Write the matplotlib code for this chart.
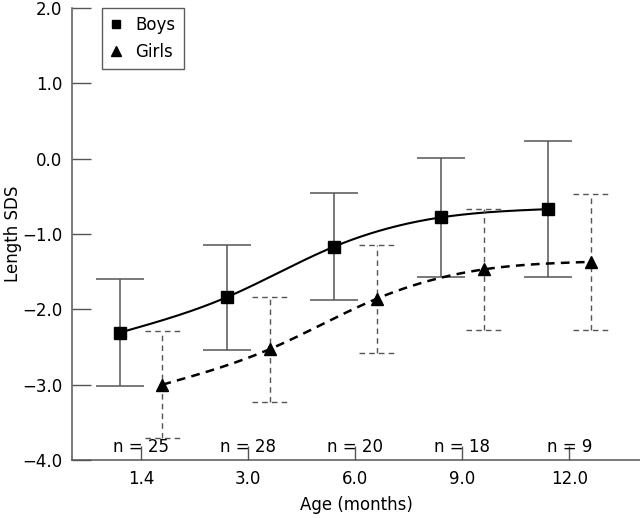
import numpy as np
import matplotlib
matplotlib.use('Agg')
import matplotlib.pyplot as plt

# data
ages = ['1.4', '3.0', '6.0', '9.0', '12.0']
n_labels = ['n = 25', 'n = 28', 'n = 20', 'n = 18', 'n = 9']
boys_mean = [-2.31, -1.84, -1.17, -0.78, -0.67]
boys_sd = [0.71, 0.70, 0.71, 0.79, 0.90]
girls_mean = [-3.00, -2.53, -1.86, -1.47, -1.37]
girls_sd = [0.71, 0.70, 0.72, 0.80, 0.90]


def smooth(x, y, num=200):
    # natural cubic spline for drawing the curve through the points
    x = np.asarray(x, float)
    y = np.asarray(y, float)
    n = len(x)
    h = np.diff(x)
    A = np.zeros((n, n))
    b = np.zeros(n)
    A[0, 0] = A[-1, -1] = 1
    for i in range(1, n - 1):
        A[i, i - 1] = h[i - 1]
        A[i, i] = 2 * (h[i - 1] + h[i])
        A[i, i + 1] = h[i]
        b[i] = 3 * ((y[i + 1] - y[i]) / h[i] - (y[i] - y[i - 1]) / h[i - 1])
    c = np.linalg.solve(A, b)
    xs = np.linspace(x[0], x[-1], num)
    ys = np.empty_like(xs)
    for k, xv in enumerate(xs):
        i = min(np.searchsorted(x, xv, side='right') - 1, n - 2)
        dx = xv - x[i]
        bi = (y[i + 1] - y[i]) / h[i] - h[i] * (2 * c[i] + c[i + 1]) / 3
        di = (c[i + 1] - c[i]) / (3 * h[i])
        ys[k] = y[i] + bi * dx + c[i] * dx ** 2 + di * dx ** 3
    return xs, ys


plt.rcParams['font.family'] = ['DejaVu Sans']
plt.rcParams['font.size'] = 12

fig = plt.figure(figsize=(6.4, 5.18), dpi=100)
ax = fig.add_axes([0.1125, 0.112, 0.8875, 0.8726])

pos = np.arange(len(ages))
xb = pos - 0.2
xg = pos + 0.2
grey = '#555555'

# boys
eb = ax.errorbar(xb, boys_mean, yerr=boys_sd, fmt='none', ecolor=grey,
                 elinewidth=1.1, capsize=17, capthick=1.1)
sx, sy = smooth(xb, boys_mean)
ax.plot(sx, sy, color='black', lw=1.5)
ax.plot(xb, boys_mean, 's', color='black', ms=8, label='Boys')

# girls
eg = ax.errorbar(xg, girls_mean, yerr=girls_sd, fmt='none', ecolor=grey,
                 elinewidth=1.0, capsize=17, capthick=1.0)
for line in eg[2]:
    line.set_linestyle((0, (4, 3)))
for cap in eg[1]:
    cap.set_visible(False)
# dashed caps
for x0, m, s in zip(xg, girls_mean, girls_sd):
    for yy in (m - s, m + s):
        ax.plot([x0 - 0.165, x0 + 0.165], [yy, yy], color=grey, lw=1.0,
                ls=(0, (4, 3)))
sx, sy = smooth(xg, girls_mean)
ax.plot(sx, sy, color='black', lw=1.8, ls=(0, (3.5, 2.5)))
ax.plot(xg, girls_mean, '^', color='black', ms=9, label='Girls')

for p, t in zip(pos, n_labels):
    ax.text(p, -3.95, t, ha='center', va='bottom')

ax.set_xlim(-0.645, 4.66)
ax.set_ylim(-4.0, 2.0)
ax.set_xticks(pos)
ax.set_xticklabels(ages)
ax.set_yticks(np.arange(-4.0, 2.01, 1.0))
ax.set_yticklabels(['−4.0', '−3.0', '−2.0', '−1.0', '0.0', '1.0', '2.0'])
ax.tick_params(axis='y', direction='in', length=14, width=1, color=grey, pad=7)
ax.tick_params(axis='x', direction='in', length=10, width=1, color=grey, pad=7)
for side in ['top', 'right']:
    ax.spines[side].set_visible(False)
for side in ['left', 'bottom']:
    ax.spines[side].set_color(grey)
    ax.spines[side].set_linewidth(1.1)

ax.set_xlabel('Age (months)', labelpad=6)
ax.set_ylabel('Length SDS')
ax.yaxis.set_label_coords(-0.088, 0.5)

leg = ax.legend(loc='upper left', bbox_to_anchor=(0.053, 1.0), borderaxespad=0,
                frameon=True, fancybox=False, edgecolor='#333333',
                handlelength=0.7, handletextpad=0.8, borderpad=0.5,
                labelspacing=0.5, markerscale=0.8)
leg.get_frame().set_linewidth(1.0)

fig.savefig('out.png', dpi=100)
